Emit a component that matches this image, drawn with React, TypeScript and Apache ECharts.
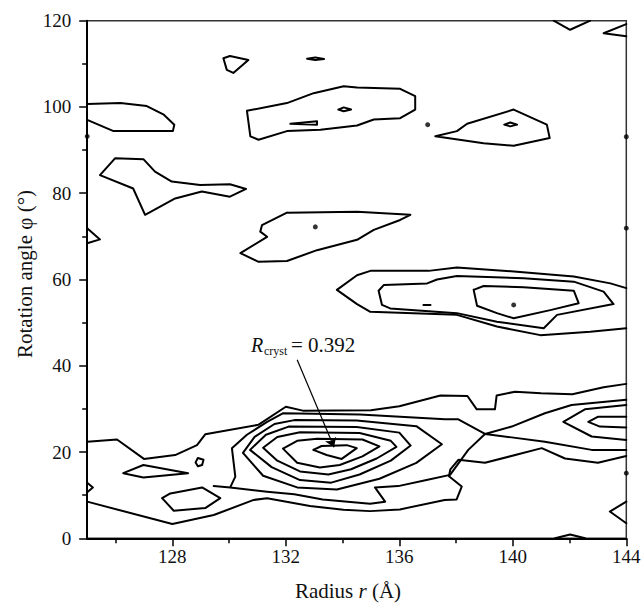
import React, { useEffect, useRef } from "react";
import * as echarts from "echarts";

// ---- axis ticks ----
const xMajorTicks = [128, 132, 136, 140, 144];
const xMinorTicks = [126, 130, 134, 138, 142];

// ---- contour lines: [radius r (Å), rotation angle φ (°)] ----
const outerTop = [[125, 22.4], [126.05, 22.9], [127.0, 18.4], [128.1, 19.3], [128.87, 21.6], [129.16, 24.1], [131.03, 26.3], [132.0, 30.5], [132.6, 29.6], [135.0, 29.7], [136.0, 30.6], [137.45, 33.1], [138.4, 33.0], [138.73, 29.9], [139.37, 29.9], [139.43, 33.1], [140.08, 34.0], [141.0, 33.6], [142.1, 33.4], [143.2, 35.0], [144, 35.8]];
const outerBottom = [[125, 8.5], [128.0, 3.3], [129.46, 5.4], [130.87, 8.9], [131.34, 9.3], [132.85, 7.5], [134.03, 6.6], [134.97, 6.3], [136.02, 6.7], [137.6, 8.9], [138.02, 9.0], [138.2, 12.0], [137.75, 14.4], [137.8, 16.0], [138.08, 18.2], [139.02, 17.5], [141.02, 20.9], [141.84, 18.5], [143.0, 17.5], [144, 19.1]];
const ring1 = [[129.46, 12.1], [130.04, 11.8], [130.22, 14.3], [130.1, 20.9], [130.63, 24.0], [131.34, 27.0], [131.91, 29.0], [134.61, 28.7], [137.61, 27.6], [138.08, 27.6], [139.02, 24.2], [138.43, 20.5], [137.79, 14.7], [136.96, 13.5], [135.96, 12.1], [135.14, 11.8], [135.5, 8.5], [134.97, 8.0], [133.3, 9.0], [132.3, 10.2], [131.34, 10.8], [130.04, 11.8]];
const ringA = [[130.49, 19.8], [130.9, 23.5], [131.6, 26.5], [132.3, 27.4], [134.5, 27.3], [136.6, 26.0], [137.5, 21.8], [136.6, 17.5], [135.3, 13.8], [133.8, 11.3], [132.4, 11.8], [131.2, 14.5], [130.49, 19.8]];
const ringB = [[130.74, 20.5], [131.3, 24.0], [132.1, 25.9], [134.5, 25.8], [136.0, 24.5], [136.4, 21.5], [135.7, 18.0], [134.6, 14.8], [133.6, 12.9], [132.5, 13.5], [131.5, 16.5], [130.74, 20.5]];
const ringC = [[131.2, 21.0], [131.7, 23.5], [132.5, 24.6], [134.6, 24.4], [135.7, 22.6], [135.9, 21.2], [135.2, 18.5], [134.3, 16.0], [133.5, 14.8], [132.5, 15.5], [131.7, 18.0], [131.2, 21.0]];
const ringD = [[131.9, 20.8], [132.4, 22.6], [133.1, 23.1], [134.7, 22.9], [135.3, 21.3], [134.7, 19.0], [133.9, 17.0], [133.2, 16.4], [132.4, 17.5], [131.9, 20.8]];
const ringMin = [[132.97, 20.5], [133.26, 21.4], [134.15, 21.6], [134.5, 20.9], [133.97, 18.4], [133.44, 19.3], [132.97, 20.5]];
const saddleRight = [[144, 32.1], [142.07, 30.9], [141.13, 29.0], [139.96, 25.9], [139.02, 24.2], [139.96, 23.4], [141.13, 22.4], [142.78, 20.5], [144, 20.5]];
const rightRingOuter = [[144, 30.9], [142.54, 29.9], [141.78, 27.0], [142.78, 23.6], [144, 22.8]];
const rightRingInner = [[144, 28.2], [143.01, 28.2], [142.66, 27.0], [143.07, 25.9], [144, 25.7]];
const lensLeft = [[126.27, 15.1], [126.98, 17.0], [128.56, 15.1], [126.98, 14.1], [126.27, 15.1]];
const hexLowLeft = [[127.64, 9.3], [127.93, 10.4], [129.05, 11.8], [129.69, 9.3], [129.16, 7.0], [128.05, 6.4], [127.64, 9.3]];
const loop129 = [[128.9, 18.6], [129.1, 18.2], [129.05, 17.0], [128.9, 16.7], [128.82, 17.6], [128.9, 18.6]];
const leftBlob12 = [[125, 12.9], [125.2, 11.8], [125, 10.7]];
const rightTri6 = [[144, 8.5], [143.42, 6.2], [144, 3.5]];
const bottomArc = [[141.49, 0], [142.02, 0.9], [142.55, 0]];
const ellipseOuter = [[144, 58.0], [143.44, 59.1], [142.15, 60.7], [140.15, 61.8], [138.03, 62.8], [137.03, 62.0], [134.98, 62.0], [134.51, 61.0], [133.8, 57.6], [134.51, 54.3], [134.98, 52.5], [138.03, 51.8], [139.44, 49.1], [140.97, 47.1], [142.73, 47.9], [144, 48.7]];
const ellipseMid = [[135.27, 57.4], [135.45, 58.7], [136.98, 59.1], [137.33, 60.0], [138.03, 60.8], [140.38, 60.3], [142.15, 59.5], [143.2, 57.2], [143.55, 54.3], [141.56, 51.8], [141.09, 48.7], [139.44, 50.2], [138.03, 52.2], [135.68, 53.3], [135.39, 54.1], [135.27, 57.4]];
const ellipseInner = [[138.62, 57.6], [138.97, 58.5], [140.38, 58.2], [142.15, 57.4], [142.32, 54.5], [141.32, 52.9], [140.03, 51.0], [139.44, 52.2], [138.74, 53.9], [138.62, 57.6]];
const dash54 = [[136.85, 54.1], [137.1, 54.1]];
const shape72 = [[132.04, 75.5], [134.51, 75.7], [136.39, 75.0], [136.03, 73.8], [135.1, 71.5], [134.51, 69.2], [133.1, 66.8], [132.04, 64.3], [131.04, 64.1], [130.4, 66.1], [131.34, 69.9], [131.1, 71.1], [131.16, 72.6], [132.04, 75.5]];
const leftTri70 = [[125, 71.9], [125.45, 69.3], [125, 68.4]];
const shape80 = [[125.45, 84.2], [125.98, 88.1], [126.98, 87.9], [127.39, 85.0], [127.98, 82.7], [128.98, 81.9], [130.03, 82.1], [130.6, 81.0], [130.03, 79.2], [129.04, 80.4], [128.1, 78.8], [127.04, 75.0], [126.62, 81.1], [125.45, 84.2]];
const shape100Left = [[125, 100.7], [126.17, 100.9], [127.1, 100.2], [127.7, 98.2], [128.07, 95.9], [128.02, 94.4], [125.93, 94.4], [125, 97.0]];
const shape100Mid = [[130.63, 99.1], [132.04, 100.9], [132.98, 103.2], [134.04, 104.8], [134.51, 104.5], [136.03, 104.2], [136.56, 102.5], [136.56, 99.4], [136.03, 97.4], [135.1, 97.1], [134.51, 95.7], [133.22, 94.7], [132.04, 94.4], [131.04, 92.4], [130.75, 93.2], [130.63, 99.1]];
const loop100 = [[133.85, 99.4], [134.04, 99.9], [134.3, 99.4], [134.04, 99.0], [133.85, 99.4]];
const sliver96 = [[132.16, 96.1], [133.1, 96.7], [133.1, 95.9], [132.16, 96.1]];
const shape96Right = [[137.27, 93.2], [138.03, 94.4], [138.39, 96.1], [140.03, 99.4], [141.2, 95.9], [141.3, 92.8], [140.03, 91.0], [138.97, 91.6], [137.27, 93.2]];
const loop96 = [[139.7, 95.9], [139.91, 96.4], [140.15, 95.9], [139.91, 95.5], [139.7, 95.9]];
const tri110 = [[129.8, 111.3], [130.03, 111.8], [130.68, 110.9], [130.15, 107.9], [129.92, 108.6], [129.8, 111.3]];
const lens111 = [[132.75, 111.2], [133.04, 111.5], [133.35, 111.1], [133.04, 110.9], [132.75, 111.2]];
const topV = [[141.44, 120], [142.02, 117.9], [142.73, 120]];
const rightTri117 = [[144, 119.2], [143.2, 117.1], [144, 116.4]];

const contours = [outerTop, outerBottom, ring1, ringA, ringB, ringC, ringD, ringMin, saddleRight, rightRingOuter, rightRingInner, lensLeft, hexLowLeft, loop129, leftBlob12, rightTri6, bottomArc, ellipseOuter, ellipseMid, ellipseInner, dash54, shape72, leftTri70, shape80, shape100Left, shape100Mid, loop100, sliver96, shape96Right, loop96, tri110, lens111, topV, rightTri117];

// isolated tiny minima
const dots = [[140.03, 54.1], [133.04, 72.2], [137.0, 95.9], [144, 93.1], [144, 71.9], [144, 15.1], [125, 93.2]];

// annotation arrow (from label to the global minimum)
const arrowFrom = [132.4, 41.4];
const arrowTo = [133.7, 21.1];

const SERIF = "'Liberation Serif', 'Times New Roman', serif";

export default function App() {
  const ref = useRef<HTMLDivElement>(null);
  useEffect(() => {
    if (!ref.current) return;
    const chart = echarts.init(ref.current, null, { renderer: "svg" });
    const lineSeries: any[] = contours.map((d) => ({
      type: "line",
      data: d,
      showSymbol: false,
      symbol: "none",
      silent: true,
      clip: true,
      lineStyle: { color: "#000", width: 2, join: "round", cap: "round" },
    }));
    lineSeries.push({
      type: "scatter",
      data: dots,
      symbolSize: 5,
      clip: true,
      silent: true,
      itemStyle: { color: "#000" },
      markLine: {
        silent: true,
        symbol: ["none", "arrow"],
        symbolSize: 9,
        label: { show: false },
        lineStyle: { color: "#000", width: 1.2, type: "solid" },
        data: [[{ coord: arrowFrom }, { coord: arrowTo }]],
      },
    });
    chart.setOption({
      animation: false,
      backgroundColor: "#fff",
      grid: {
        left: 87.2,
        right: 17.7,
        top: 20.7,
        bottom: 66.7,
        show: true,
        borderColor: "#333",
        borderWidth: 1.5,
        backgroundColor: "transparent",
      },
      xAxis: [
        {
          type: "value",
          min: 125,
          max: 144,
          position: "bottom",
          axisLine: { show: true, lineStyle: { color: "#000", width: 2 } },
          axisTick: { show: true, length: 8, customValues: xMajorTicks, lineStyle: { color: "#000", width: 1.5 } },
          axisLabel: { customValues: xMajorTicks, margin: 9, color: "#111", fontFamily: SERIF, fontSize: 19 },
          splitLine: { show: false },
        },
        {
          type: "value",
          min: 125,
          max: 144,
          position: "bottom",
          axisLine: { show: false },
          axisTick: { show: true, length: 5, customValues: xMinorTicks, lineStyle: { color: "#000", width: 1.5 } },
          axisLabel: { show: false },
          splitLine: { show: false },
        },
      ],
      yAxis: {
        type: "value",
        min: 0,
        max: 120,
        interval: 20,
        axisLine: { show: true, lineStyle: { color: "#000", width: 2 } },
        axisTick: { show: true, length: 8, lineStyle: { color: "#000", width: 1.5 } },
        minorTick: { show: true, splitNumber: 2, length: 5, lineStyle: { color: "#000", width: 1.5 } },
        axisLabel: { margin: 16, color: "#111", fontFamily: SERIF, fontSize: 19 },
        splitLine: { show: false },
      },
      graphic: [
        {
          type: "text",
          x: 348,
          y: 591,
          style: {
            text: "{a|Radius }{b|r}{a| (Å)}",
            align: "center",
            verticalAlign: "middle",
            rich: {
              a: { fontFamily: SERIF, fontSize: 21, fill: "#111" },
              b: { fontFamily: SERIF, fontSize: 21, fontStyle: "italic", fill: "#111" },
            },
          },
        },
        {
          type: "text",
          x: 25,
          y: 274,
          rotation: Math.PI / 2,
          style: {
            text: "Rotation angle φ (°)",
            align: "center",
            verticalAlign: "middle",
            fontFamily: SERIF,
            fontSize: 21,
            fill: "#111",
          },
        },
        {
          type: "text",
          x: 251,
          y: 345,
          style: { text: "R", fontFamily: SERIF, fontSize: 20, fontStyle: "italic", fill: "#111", verticalAlign: "middle" },
        },
        {
          type: "text",
          x: 264,
          y: 350.5,
          style: { text: "cryst", fontFamily: SERIF, fontSize: 12, fill: "#111", verticalAlign: "middle" },
        },
        {
          type: "text",
          x: 291,
          y: 345,
          style: { text: "= 0.392", fontFamily: SERIF, fontSize: 21, fill: "#111", verticalAlign: "middle" },
        },
      ],
      series: lineSeries,
    });
    return () => chart.dispose();
  }, []);
  return <div ref={ref} style={{ position: "absolute", left: 0, top: 0, width: 644, height: 605 }} />;
}
